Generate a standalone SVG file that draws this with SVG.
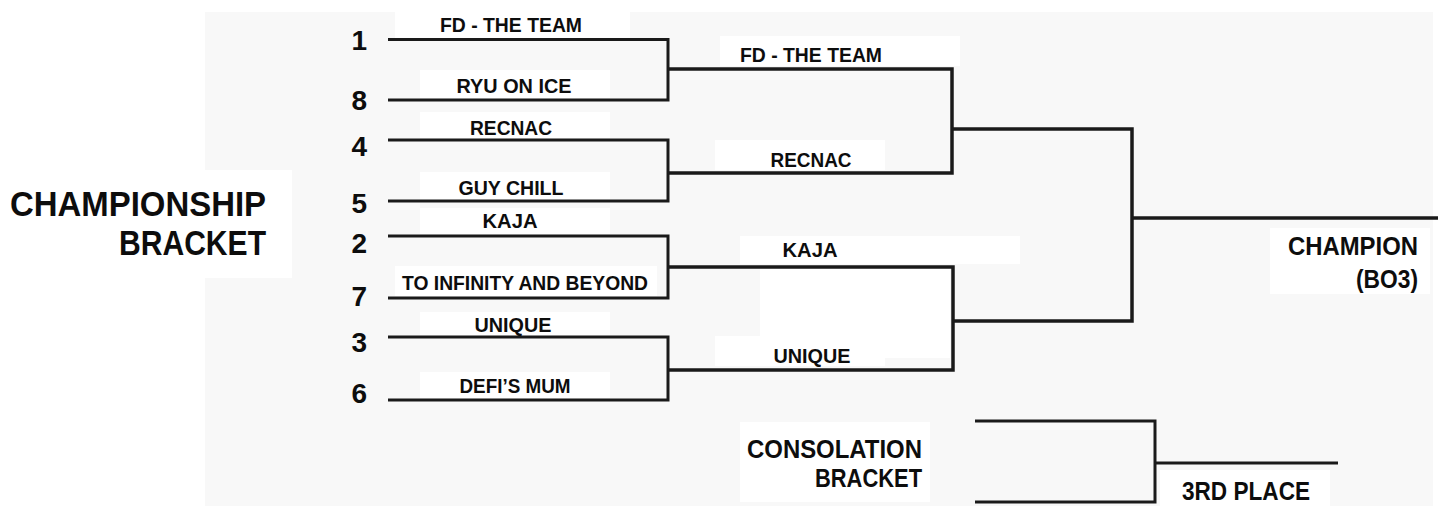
<svg xmlns="http://www.w3.org/2000/svg" width="1438" height="508" viewBox="0 0 1438 508">
<style>
.bg{fill:#f8f8f8}
.pt{fill:#ffffff}
.ln{fill:none;stroke:#1a1a1a;stroke-width:3;stroke-linejoin:miter}
.ln2{fill:none;stroke:#1a1a1a;stroke-width:3.5;stroke-linejoin:miter}
.t{font-family:"Liberation Sans",Arial,sans-serif;font-weight:bold;fill:#0d0d0d}
.team{font-size:21px;text-anchor:middle}
.seed{font-size:28px;text-anchor:end}
.big{font-size:35px;text-anchor:end}
.mid{font-size:25px;text-anchor:end}
</style>
<rect width="1438" height="508" fill="#ffffff"/>
<rect class="bg" x="205" y="12" width="1228" height="494"/>
<g id="patches">
<rect class="pt" x="0" y="170" width="292" height="108"/>
<rect class="pt" x="395" y="10" width="235" height="28"/>
<rect class="pt" x="420" y="70" width="190" height="28"/>
<rect class="pt" x="420" y="112" width="190" height="26"/>
<rect class="pt" x="420" y="172" width="190" height="28"/>
<rect class="pt" x="420" y="208" width="190" height="26"/>
<rect class="pt" x="395" y="266" width="262" height="30"/>
<rect class="pt" x="420" y="312" width="190" height="24"/>
<rect class="pt" x="420" y="372" width="190" height="26"/>
<rect class="pt" x="720" y="36" width="240" height="30"/>
<rect class="pt" x="715" y="140" width="170" height="30"/>
<rect class="pt" x="740" y="236" width="280" height="28"/>
<rect class="pt" x="760" y="268" width="190" height="90"/>
<rect class="pt" x="715" y="336" width="170" height="30"/>
<rect class="pt" x="1270" y="228" width="160" height="66"/>
<rect class="pt" x="740" y="422" width="190" height="80"/>
<rect class="pt" x="1160" y="470" width="170" height="36"/>
</g>
<g id="connectors">
<path class="ln" d="M388,39.5 H668 V100 H388"/>
<path class="ln" d="M388,140 H668 V201 H388"/>
<path class="ln" d="M388,236 H668 V298 H388"/>
<path class="ln" d="M388,337 H668 V400 H388"/>
<path class="ln2" d="M668,69 H952 V173 H668"/>
<path class="ln2" d="M668,267 H953 V370 H668"/>
<path class="ln2" d="M952,129 H1132 V321 H953"/>
<path class="ln2" d="M1132,218 H1438"/>
<path class="ln" d="M975,421 H1155 V502 H975"/>
<path class="ln" d="M1155,463 H1338"/>
</g>
<g id="title">
<text class="t big" x="266" y="216" textLength="256" lengthAdjust="spacingAndGlyphs">CHAMPIONSHIP</text>
<text class="t big" x="266" y="255" textLength="147" lengthAdjust="spacingAndGlyphs">BRACKET</text>
</g>
<g id="seeds">
<text class="t seed" x="367" y="50">1</text>
<text class="t seed" x="367" y="110">8</text>
<text class="t seed" x="367" y="156">4</text>
<text class="t seed" x="367" y="213">5</text>
<text class="t seed" x="367" y="253">2</text>
<text class="t seed" x="367" y="306">7</text>
<text class="t seed" x="367" y="352">3</text>
<text class="t seed" x="367" y="403">6</text>
</g>
<g id="round1">
<text class="t team" x="511" y="32" textLength="142" lengthAdjust="spacingAndGlyphs">FD - THE TEAM</text>
<text class="t team" x="514" y="93" textLength="115" lengthAdjust="spacingAndGlyphs">RYU ON ICE</text>
<text class="t team" x="511" y="135" textLength="82" lengthAdjust="spacingAndGlyphs">RECNAC</text>
<text class="t team" x="511" y="195" textLength="105" lengthAdjust="spacingAndGlyphs">GUY CHILL</text>
<text class="t team" x="510" y="228" textLength="55" lengthAdjust="spacingAndGlyphs">KAJA</text>
<text class="t team" x="525" y="290" textLength="246" lengthAdjust="spacingAndGlyphs">TO INFINITY AND BEYOND</text>
<text class="t team" x="513" y="332" textLength="77" lengthAdjust="spacingAndGlyphs">UNIQUE</text>
<text class="t team" x="515" y="393" textLength="111" lengthAdjust="spacingAndGlyphs">DEFI’S MUM</text>
</g>
<g id="round2">
<text class="t team" x="811" y="62" textLength="142" lengthAdjust="spacingAndGlyphs">FD - THE TEAM</text>
<text class="t team" x="811" y="167" textLength="81" lengthAdjust="spacingAndGlyphs">RECNAC</text>
<text class="t team" x="810" y="257" textLength="55" lengthAdjust="spacingAndGlyphs">KAJA</text>
<text class="t team" x="812" y="363" textLength="77" lengthAdjust="spacingAndGlyphs">UNIQUE</text>
</g>
<g id="champion">
<text class="t mid" x="1418" y="255" textLength="130" lengthAdjust="spacingAndGlyphs">CHAMPION</text>
<text class="t mid" x="1418" y="288" textLength="62" lengthAdjust="spacingAndGlyphs">(BO3)</text>
</g>
<g id="consolation">
<text class="t mid" x="922" y="458" textLength="175" lengthAdjust="spacingAndGlyphs">CONSOLATION</text>
<text class="t mid" x="922" y="487" textLength="107" lengthAdjust="spacingAndGlyphs">BRACKET</text>
</g>
<g id="third">
<text class="t mid" x="1310" y="500" textLength="128" lengthAdjust="spacingAndGlyphs">3RD PLACE</text>
</g>
</svg>
